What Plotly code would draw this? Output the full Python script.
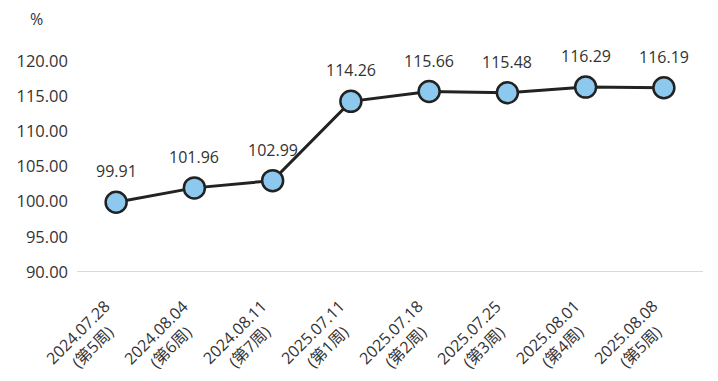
import plotly.graph_objects as go

dates = ["2024.07.28", "2024.08.04", "2024.08.11", "2025.07.11", "2025.07.18", "2025.07.25", "2025.08.01", "2025.08.08"]
weeks = ["(第5周)", "(第6周)", "(第7周)", "(第1周)", "(第2周)", "(第3周)", "(第4周)", "(第5周)"]
values = [99.91, 101.96, 102.99, 114.26, 115.66, 115.48, 116.29, 116.19]
y_ticks = [90, 95, 100, 105, 110, 115, 120]

cats = [d + "<br>" + w for d, w in zip(dates, weeks)]
FONT = "Open Sans, Noto Sans CJK SC, sans-serif"

fig = go.Figure()
fig.add_trace(go.Scatter(
    x=cats, y=values, mode="lines+markers",
    line=dict(color="#222222", width=3),
    marker=dict(size=21, color="#8DC8EE", line=dict(color="#222222", width=2.5)),
    hoverinfo="skip", cliponaxis=False,
))
for c, v in zip(cats, values):
    fig.add_annotation(x=c, y=v, text=f"{v:.2f}", showarrow=False, yshift=31,
                       font=dict(size=16, color="#333333", family=FONT))

# category labels: rotated, two centred lines
for c in cats:
    fig.add_annotation(x=c, xref="x", y=0, yref="paper", text=c, showarrow=False,
                       textangle=-45, align="center", xanchor="center", yanchor="middle",
                       xshift=-31, yshift=-67,
                       font=dict(size=16, color="#333333", family=FONT))

fig.update_layout(
    width=718, height=381,
    margin=dict(l=69, r=23, t=53, b=117, pad=0, autoexpand=False),
    plot_bgcolor="white", paper_bgcolor="white",
    showlegend=False,
    font=dict(family=FONT, color="#333333"),
)
fig.update_xaxes(
    type="category", range=[-0.5, len(cats) - 0.5], showgrid=False, zeroline=False,
    showline=False, ticks="", automargin=False, showticklabels=False,
)
fig.update_yaxes(
    range=[90, 120], tickvals=y_ticks, ticktext=[f"{t:.2f}" for t in y_ticks],
    showgrid=False, zeroline=False, showline=False, ticks="", automargin=False,
    ticklabelstandoff=8,
    tickfont=dict(size=16.5, color="#333333", family=FONT),
)
fig.add_shape(type="line", xref="paper", yref="y", x0=0, x1=1, y0=90, y1=90,
              line=dict(color="#d9d9d9", width=2), layer="below")
fig.add_annotation(xref="paper", yref="paper", x=-0.064, y=1.2, text="%", showarrow=False,
                   xanchor="center", yanchor="middle", font=dict(size=16, color="#333333", family=FONT))

fig.write_html("out.html")
